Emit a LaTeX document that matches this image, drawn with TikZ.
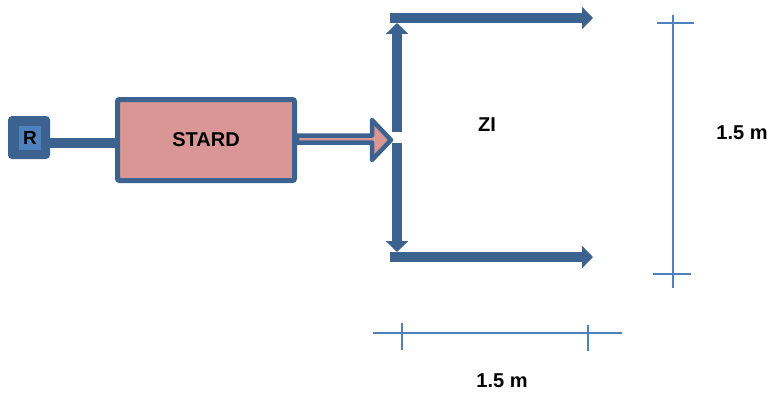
\documentclass[tikz,border=0pt]{standalone}
\usepackage{fontspec}
\setmainfont{Liberation Sans}
\usetikzlibrary{arrows.meta}
\definecolor{dblue}{HTML}{3C6290}
\definecolor{lblue}{HTML}{4F81BD}
\definecolor{boxpink}{HTML}{D99694}
\begin{document}
\begin{tikzpicture}[x=1pt,y=-1pt,
  lbl/.style={font=\fontsize{20}{24}\selectfont\bfseries, text=black},
  thickline/.style={draw=dblue,line width=10pt},
  dimline/.style={draw=lblue,line width=2pt},
  tiparrow/.style={-{Triangle[width=22pt,length=11pt]}}]
\useasboundingbox (0,0) rectangle (773,396);
% R block
\node (R) [fill=dblue, rounded corners=4pt, minimum width=42pt, minimum height=43pt, inner sep=0pt] at (29,137.5) {};
\node (Rin) [fill=lblue, minimum width=22pt, minimum height=24pt, inner sep=0pt, font=\fontsize{19}{20}\selectfont\bfseries] at (30,138) {R};
% STARD box
\node (S) [draw=dblue, line width=5pt, fill=boxpink, rounded corners=2pt, minimum width=177pt, minimum height=81pt, lbl] at (206,140) {STARD};
% R to STARD line
\draw[thickline] (R.east |- 0,142.5) -- (S.west |- 0,142.5);
% block arrow
\coordinate (bt) at (391,140);
\draw[draw=dblue, line width=4.5pt, fill=boxpink, line join=round]
  (S.east |- 0,135.5) -- (372,135.5) -- (372,120) -- (bt) -- (372,160) -- (372,142.5) -- (S.east |- 0,142.5) -- cycle;
% branches
\coordinate (jt) at (397,132);
\coordinate (jb) at (397,143);
\coordinate (tt) at (397,23);
\coordinate (bb) at (397,252);
\draw[thickline, tiparrow] (jt) -- (tt);
\draw[thickline, tiparrow] (jb) -- (bb);
\coordinate (ts) at (390,18);
\coordinate (te) at (593,18);
\coordinate (bs) at (390,257);
\coordinate (be) at (593,257);
\draw[thickline, tiparrow] (ts) -- (te);
\draw[thickline, tiparrow] (bs) -- (be);
\node (ZI) [lbl] at (487,125) {ZI};
% vertical dimension
\coordinate (va) at (673,15);
\coordinate (vb) at (673,288);
\draw[dimline] (va) -- (vb);
\coordinate (vt1) at (657,23);
\coordinate (vt2) at (694,23);
\coordinate (vb1) at (653,274);
\coordinate (vb2) at (691,274);
\draw[dimline] (vt1) -- (vt2);
\draw[dimline] (vb1) -- (vb2);
\node (dimv) [lbl] at (742,133) {1.5 m};
% horizontal dimension
\coordinate (ha) at (373,333);
\coordinate (hb) at (622,333);
\draw[dimline] (ha) -- (hb);
\coordinate (ht1) at (402,323);
\coordinate (ht2) at (402,350);
\coordinate (hu1) at (588,325);
\coordinate (hu2) at (588,351);
\draw[dimline] (ht1) -- (ht2);
\draw[dimline] (hu1) -- (hu2);
\node (dimh) [lbl] at (502,381) {1.5 m};
\end{tikzpicture}
\end{document}
